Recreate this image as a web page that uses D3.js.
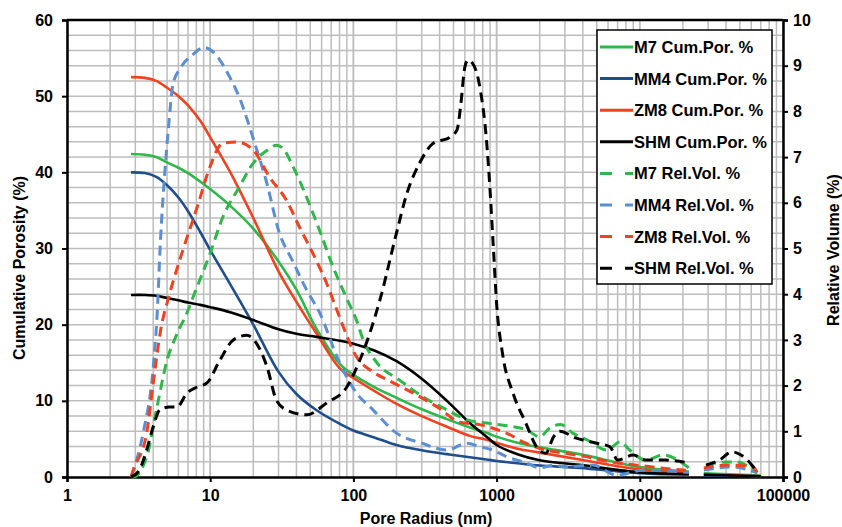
<!DOCTYPE html>
<meta charset="utf-8">
<script src="https://cdn.jsdelivr.net/npm/d3@7"></script>
<style>
  body { margin: 0; background: #fff; }
  svg text { font-family: "Liberation Sans", Arial, sans-serif; font-weight: bold; fill: #000; }
</style>
<div id="chart"></div>
<script>
// ---- data ----
// cumulative porosity (left axis, %)
var cumRadius = [2.8, 3.5, 4.2, 5, 6, 7, 8.5, 10, 14, 20, 30, 40, 55, 80, 100, 140, 200, 300, 450, 650, 850, 1000, 1400, 2000, 3800, 10000, 22000, 25000, 28000, 70000];
var m7Cum   = [42.4, 42.3, 42.0, 41.3, 40.6, 39.9, 38.8, 37.8, 35.5, 32.6, 28.3, 24.6, 19.5, 14.9, 13.4, 11.8, 10.4, 8.9, 7.6, 6.5, 5.8, 5.3, 4.5, 3.9, 3.0, 1.3, 0.7, null, 0.5, 0.2];
var mm4Cum  = [40.0, 39.9, 39.4, 38.3, 36.7, 34.9, 32.2, 29.8, 25.1, 20.0, 13.8, 10.9, 8.8, 7.0, 6.1, 5.2, 4.2, 3.5, 3.0, 2.6, 2.3, 2.1, 1.8, 1.5, 1.2, 0.5, 0.3, null, 0.2, 0.1];
var zm8Cum  = [52.5, 52.4, 52.0, 51.1, 50.0, 48.8, 46.8, 44.6, 39.8, 34.0, 27.0, 23.0, 18.9, 14.3, 13.0, 11.3, 9.6, 8.0, 6.6, 5.4, 4.9, 4.5, 3.7, 3.2, 2.3, 1.0, 0.5, null, 0.4, 0.1];
var shmCum  = [23.9, 23.9, 23.8, 23.5, 23.2, 22.9, 22.6, 22.3, 21.6, 20.6, 19.4, 18.8, 18.4, 17.9, 17.5, 16.6, 15.2, 12.9, 10.0, 7.1, 5.3, 4.2, 3.0, 2.2, 1.6, 0.6, 0.4, null, 0.3, 0.1];

// relative volume (right axis, %)
var m7RelRadius = [2.8, 2.9, 3.6, 4.25, 5, 5.8, 6.9, 7.6, 10, 12.3, 16, 20, 25, 29, 32, 38, 47, 58, 72, 90, 106, 117, 146, 210, 308, 450, 620, 850, 1300, 1620, 2000, 2350, 2800, 3400, 4300, 5900, 7300, 8500, 11000, 14500, 22000, 25000, 29000, 40000, 47000, 58000, 66000];
var m7Rel       = [0, 0, 0.44, 1.53, 2.56, 3.1, 3.6, 3.94, 4.9, 5.7, 6.35, 6.87, 7.15, 7.26, 7.2, 6.78, 6.13, 5.4, 4.6, 3.9, 3.4, 3.0, 2.5, 2.12, 1.75, 1.47, 1.25, 1.18, 1.1, 1.03, 0.88, 1.07, 1.15, 0.96, 0.81, 0.59, 0.77, 0.59, 0.37, 0.48, 0.2, null, 0.26, 0.33, 0.33, 0.22, 0.1];

var mm4RelRadius = [2.8, 3.4, 4, 4.25, 4.5, 4.8, 5.1, 5.5, 6.2, 7.6, 9, 10.5, 13.7, 16, 20, 25, 30, 38, 47, 58, 80, 105, 137, 200, 300, 450, 620, 770, 940, 1180, 1600, 2000, 2500, 3000, 4700, 6900, 10500, 22000, 25000, 28000, 44000, 66000];
var mm4Rel       = [0, 0.96, 2.4, 3.5, 5.2, 6.6, 7.6, 8.6, 8.95, 9.25, 9.4, 9.3, 8.75, 8.3, 7.4, 6.4, 5.4, 4.7, 4.1, 3.6, 2.5, 1.84, 1.47, 0.96, 0.74, 0.59, 0.74, 0.66, 0.59, 0.44, 0.31, 0.2, 0.26, 0.22, 0.26, 0.04, 0.15, 0.1, null, 0.15, 0.22, 0.09];

var zm8RelRadius = [2.8, 2.9, 3.6, 4, 4.5, 5.2, 6.5, 8.1, 10, 12.2, 15.4, 20, 26, 34, 42, 52, 65, 80, 105, 137, 180, 260, 400, 550, 770, 1170, 1600, 2200, 3000, 4300, 6200, 9500, 13800, 21000, 25000, 28000, 40000, 62000, 66000];
var zm8Rel       = [0, 0.15, 0.96, 2.05, 3.2, 4.0, 5.0, 5.9, 6.8, 7.3, 7.33, 7.15, 6.56, 6.06, 5.47, 4.9, 4.24, 3.5, 2.63, 2.3, 2.1, 1.84, 1.5, 1.2, 1.14, 0.96, 0.74, 0.59, 0.52, 0.44, 0.33, 0.26, 0.2, 0.15, null, 0.2, 0.26, 0.22, 0.1];

var shmRelRadius = [2.8, 3.2, 3.6, 4, 4.45, 5.2, 5.85, 6.9, 8.1, 9.5, 11.7, 14.5, 18, 21, 25, 29, 34, 47, 65, 90, 111, 153, 200, 236, 290, 360, 475, 530, 560, 600, 630, 680, 770, 850, 900, 950, 1000, 1100, 1300, 1600, 1900, 2200, 2500, 2750, 3600, 5000, 6200, 7000, 9000, 11000, 15000, 22000, 25000, 29000, 36000, 44000, 51000, 62000, 66000];
var shmRel       = [0, 0.15, 0.59, 1.1, 1.47, 1.53, 1.53, 1.84, 1.97, 2.06, 2.56, 3.0, 3.1, 2.93, 2.4, 1.68, 1.47, 1.36, 1.62, 1.97, 2.56, 3.87, 5.34, 6.2, 6.87, 7.3, 7.44, 7.6, 8.1, 8.97, 9.12, 9.05, 8.47, 7.37, 6.28, 5.0, 3.8, 2.7, 1.84, 1.18, 0.66, 0.52, 0.88, 1.0, 0.85, 0.74, 0.66, 0.37, 0.48, 0.37, 0.37, 0.31, null, 0.26, 0.37, 0.55, 0.48, 0.22, 0.09];

var xTicks = [1, 10, 100, 1000, 10000, 100000];
var leftTicks = [0, 10, 20, 30, 40, 50, 60];
var rightTicks = [0, 1, 2, 3, 4, 5, 6, 7, 8, 9, 10];

var green = "#2EB84A", navy = "#1F4E8C", red = "#F0421E", lightBlue = "#5B8FD4";

var series = [
  { name: "M7 Cum.Por. %",  x: cumRadius, y: m7Cum,  axis: "left",  color: green,    dashed: false },
  { name: "MM4 Cum.Por. %", x: cumRadius, y: mm4Cum, axis: "left",  color: navy,     dashed: false },
  { name: "ZM8 Cum.Por. %", x: cumRadius, y: zm8Cum, axis: "left",  color: red,      dashed: false },
  { name: "SHM Cum.Por. %", x: cumRadius, y: shmCum, axis: "left",  color: "#000",   dashed: false },
  { name: "M7 Rel.Vol. %",  x: m7RelRadius,  y: m7Rel,  axis: "right", color: green,     dashed: true },
  { name: "MM4 Rel.Vol. %", x: mm4RelRadius, y: mm4Rel, axis: "right", color: lightBlue, dashed: true },
  { name: "ZM8 Rel.Vol. %", x: zm8RelRadius, y: zm8Rel, axis: "right", color: red,       dashed: true },
  { name: "SHM Rel.Vol. %", x: shmRelRadius, y: shmRel, axis: "right", color: "#000",    dashed: true }
];

// ---- layout ----
var W = 842, H = 527;
var pLeft = 67, pRight = 783, pTop = 20, pBottom = 477;

var svg = d3.select("#chart").append("svg").attr("width", W).attr("height", H);

var x = d3.scaleLog().domain([1, 100000]).range([pLeft, pRight]);
var yL = d3.scaleLinear().domain([0, 60]).range([pBottom, pTop]);
var yR = d3.scaleLinear().domain([0, 10]).range([pBottom, pTop]);

// grid
var grid = svg.append("g").attr("stroke", "#BDBDBD").attr("stroke-width", 1.5);
var minor = [];
for (var p = 0; p < 5; p++) {
  for (var k = 1; k <= 10; k++) minor.push(k * Math.pow(10, p));
}
grid.selectAll("line.v").data(minor).enter().append("line")
  .attr("x1", function(d) { return x(d); }).attr("x2", function(d) { return x(d); })
  .attr("y1", pTop).attr("y2", pBottom);
grid.selectAll("line.h").data(d3.range(2, 60, 2)).enter().append("line")
  .attr("y1", function(d) { return yL(d); }).attr("y2", function(d) { return yL(d); })
  .attr("x1", pLeft).attr("x2", pRight);

// axes
var axisL = svg.append("g").attr("transform", "translate(" + pLeft + ",0)")
  .call(d3.axisLeft(yL).tickValues(leftTicks).tickSize(5).tickPadding(9));
var axisR = svg.append("g").attr("transform", "translate(" + pRight + ",0)")
  .call(d3.axisRight(yR).tickValues(rightTicks).tickSize(5).tickPadding(5));
var axisB = svg.append("g").attr("transform", "translate(0," + pBottom + ")")
  .call(d3.axisBottom(x).tickValues(xTicks).tickFormat(d3.format("d")).tickSize(5).tickPadding(8));
[axisL, axisR, axisB].forEach(function(a) {
  a.select(".domain").attr("stroke", "#000").attr("stroke-width", 2.5);
  a.selectAll(".tick line").attr("stroke", "#000").attr("stroke-width", 2);
  a.selectAll("text").style("font-size", "16px").style("font-weight", "bold")
    .style("font-family", "'Liberation Sans', Arial, sans-serif").attr("fill", "#000");
});
svg.append("line").attr("x1", pLeft).attr("x2", pRight).attr("y1", pTop).attr("y2", pTop)
  .attr("stroke", "#000").attr("stroke-width", 2.5);

// curves
var plot = svg.append("g");
series.forEach(function(s) {
  var yS = s.axis === "left" ? yL : yR;
  var pts = s.x.map(function(r, i) { return [r, s.y[i]]; });
  var line = d3.line()
    .defined(function(d) { return d[1] !== null; })
    .x(function(d) { return x(d[0]); })
    .y(function(d) { return yS(d[1]); })
    .curve(s.dashed ? d3.curveMonotoneX : d3.curveCatmullRom.alpha(0.5));
  plot.append("path").datum(pts)
    .attr("fill", "none")
    .attr("stroke", s.color)
    .attr("stroke-width", s.dashed ? 3 : 2.6)
    .attr("stroke-dasharray", s.dashed ? "10,6" : null)
    .attr("d", line);
});

// legend
var lg = svg.append("g");
lg.append("rect").attr("x", 597).attr("y", 30).attr("width", 175).attr("height", 254)
  .attr("fill", "#fff").attr("stroke", "#000").attr("stroke-width", 1.5);
var item = lg.selectAll("g.item").data(series).enter().append("g")
  .attr("transform", function(d, i) { return "translate(0," + (47 + i * 31.6) + ")"; });
item.append("line").attr("x1", 600).attr("x2", 633).attr("y1", 0).attr("y2", 0)
  .attr("stroke", function(d) { return d.color; }).attr("stroke-width", 3)
  .attr("stroke-dasharray", function(d) { return d.dashed ? "12,13" : null; });
item.append("text").attr("x", 634).attr("y", 0).attr("dy", "0.36em")
  .style("font-size", "16.5px").text(function(d) { return d.name; });

// axis titles
svg.append("text").attr("transform", "translate(19,268) rotate(-90)")
  .attr("text-anchor", "middle").attr("dy", "0.36em").style("font-size", "16px")
  .text("Cumulative Porosity (%)");
svg.append("text").attr("transform", "translate(833,250) rotate(-90)")
  .attr("text-anchor", "middle").attr("dy", "0.36em").style("font-size", "16px")
  .text("Relative Volume (%)");
svg.append("text").attr("x", 426).attr("y", 524).attr("text-anchor", "middle")
  .style("font-size", "16px").text("Pore Radius (nm)");
</script>
